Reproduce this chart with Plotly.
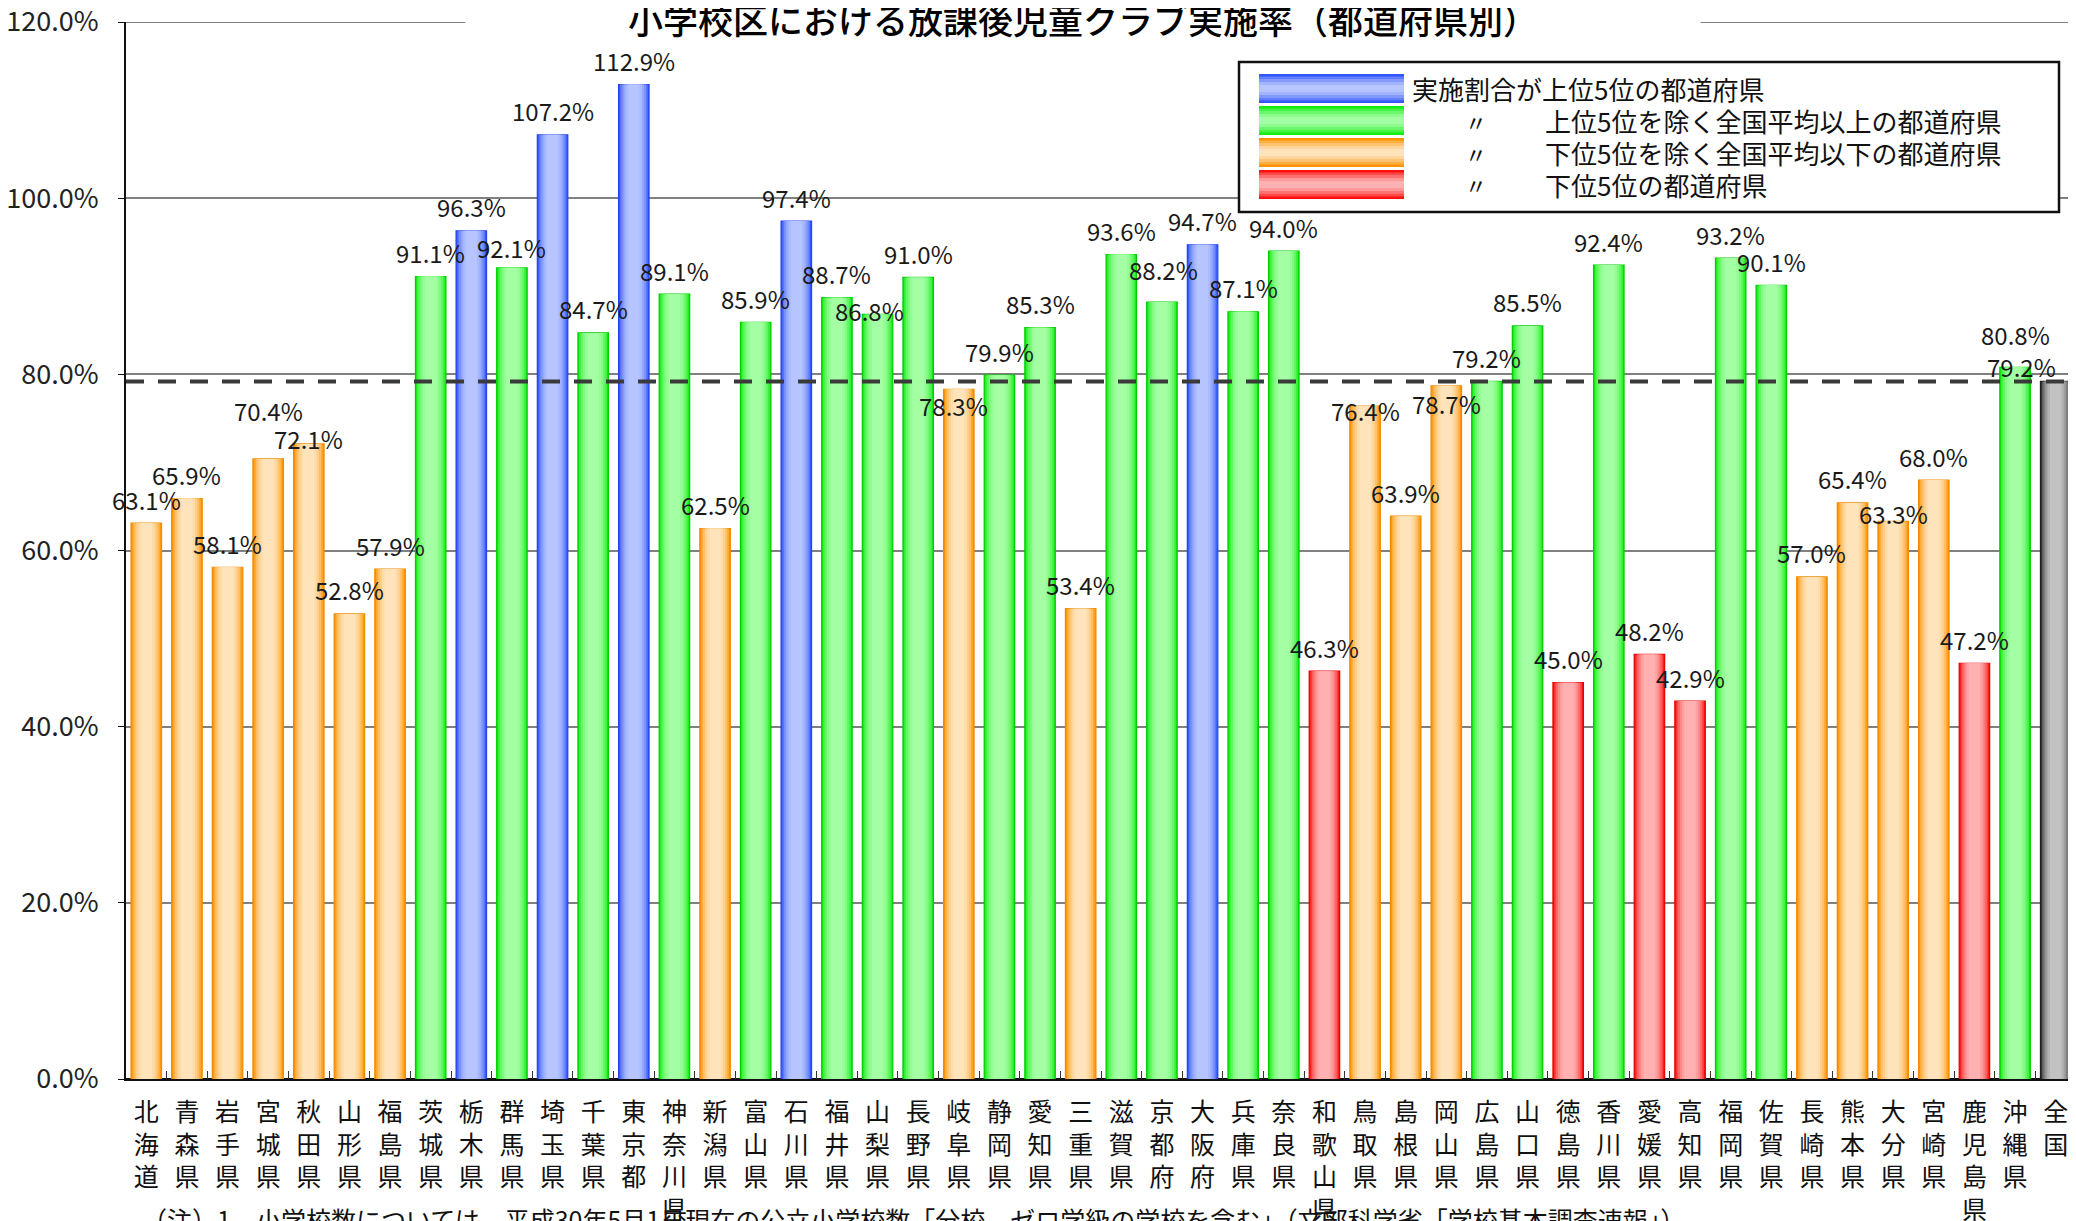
import plotly.graph_objects as go

# 都道府県別の放課後児童クラブ実施率（%）
prefs = ["北海道", "青森県", "岩手県", "宮城県", "秋田県", "山形県", "福島県",
         "茨城県", "栃木県", "群馬県", "埼玉県", "千葉県", "東京都", "神奈川県",
         "新潟県", "富山県", "石川県", "福井県", "山梨県", "長野県", "岐阜県",
         "静岡県", "愛知県", "三重県", "滋賀県", "京都府", "大阪府", "兵庫県",
         "奈良県", "和歌山県", "鳥取県", "島根県", "岡山県", "広島県", "山口県",
         "徳島県", "香川県", "愛媛県", "高知県", "福岡県", "佐賀県", "長崎県",
         "熊本県", "大分県", "宮崎県", "鹿児島県", "沖縄県", "全国"]
rates = [63.1, 65.9, 58.1, 70.4, 72.1, 52.8, 57.9,
         91.1, 96.3, 92.1, 107.2, 84.7, 112.9, 89.1,
         62.5, 85.9, 97.4, 88.7, 86.8, 91.0, 78.3,
         79.9, 85.3, 53.4, 93.6, 88.2, 94.7, 87.1,
         94.0, 46.3, 76.4, 63.9, 78.7, 79.2, 85.5,
         45.0, 92.4, 48.2, 42.9, 93.2, 90.1, 57.0,
         65.4, 63.3, 68.0, 47.2, 80.8, 79.2]
groups = ["below"] * 7 + ["above", "top", "above", "top", "above", "top", "above",
          "below", "above", "top", "above", "above", "above", "below",
          "above", "above", "below", "above", "above", "top", "above",
          "above", "bottom", "below", "below", "below", "above", "above",
          "bottom", "above", "bottom", "bottom", "above", "above", "below",
          "below", "below", "below", "bottom", "above", "national"]
national_avg = 79.2
y_max = 120
ytick_vals = [0, 20, 40, 60, 80, 100, 120]
ytick_text = ["0.0%", "20.0%", "40.0%", "60.0%", "80.0%", "100.0%", "120.0%"]

legend_items = [("top", "実施割合が上位5位の都道府県"),
                ("above", "上位5位を除く全国平均以上の都道府県"),
                ("below", "下位5位を除く全国平均以下の都道府県"),
                ("bottom", "下位5位の都道府県")]

title = "小学校区における放課後児童クラブ実施率（都道府県別）"
note = ("（注）1　小学校数については、平成30年5月1日現在の公立小学校数"
        "「分校、ゼロ学級の学校を含む」（文部科学省「学校基本調査速報」）")

# 色（縁の濃い色, 中央の明るい色, 枠線）
palette = {
    "top": ("#3356ff", "#b6c5ff", "#2244ee"),
    "above": ("#12ee12", "#a4ffa4", "#00cc00"),
    "below": ("#ff9300", "#ffe3ba", "#f08a00"),
    "bottom": ("#ff1010", "#ffb0b0", "#e80000"),
    "national": ("#303030", "#c2c2c2", "#202020"),
}

# 数値ラベルの位置調整（元の図で重なりを避けて動かしてあるもの）
label_nudge = {"宮城県": (0, 24), "秋田県": (0, -19), "群馬県": (0, -4),
               "山梨県": (-8, -20), "岐阜県": (-5, -40), "京都府": (2, 9),
               "鳥取県": (0, -28), "岡山県": (0, -42), "大分県": (0, -16),
               "沖縄県": (0, 9), "全国": (-34, -9)}

FONT = "Noto Sans CJK JP"
OFF = 8  # ページの余白ぶん
W, H = 2076 - OFF, 1221 - OFF
# プロット領域（画面上の座標）
PL, PR, PT, PB = 126, 2076, 22, 1079


def mix(c1, c2, t):
    a = [int(c1[i:i + 2], 16) for i in (1, 3, 5)]
    b = [int(c2[i:i + 2], 16) for i in (1, 3, 5)]
    return "rgb(%d,%d,%d)" % tuple(round(a[k] + (b[k] - a[k]) * t) for k in range(3))


def px(x):
    return (x - PL) / (PR - PL)


def py(y):
    return (PB - y) / (PB - PT)


labels = ["<br>".join(list(p)) for p in prefs]

fig = go.Figure()

# 横方向のグラデーションを、幅の違う棒を重ねて表現
layers = [(0.75, 0.0), (0.68, 0.3), (0.6, 0.55), (0.5, 0.75), (0.4, 0.9), (0.28, 1.0)]
for i, (w, t) in enumerate(layers):
    cols = [mix(palette[g][0], palette[g][1], t) for g in groups]
    fig.add_trace(go.Bar(
        x=labels, y=rates, width=w,
        marker=dict(color=cols,
                    line=dict(color=[palette[g][2] for g in groups] if i == 0 else cols,
                              width=1.2 if i == 0 else 0)),
        showlegend=False,
        hovertemplate="%{y:.1f}%<extra></extra>" if i == 0 else None,
        hoverinfo=None if i == 0 else "skip",
    ))

annotations = []
for lab, p, v in zip(labels, prefs, rates):
    dx, dy = label_nudge.get(p, (0, 0))
    annotations.append(dict(
        x=lab, y=v, xref="x", yref="y", text=f"{v:.1f}%", showarrow=False,
        yanchor="middle", xanchor="center", xshift=dx, yshift=24 + dy,
        font=dict(family=FONT, size=24, color="#1a1a1a")))

# タイトル（120%の線を白地で切る）
annotations.append(dict(
    x=px(1083), y=py(18), xref="paper", yref="paper", text=title,
    showarrow=False, xanchor="center", yanchor="middle",
    width=1232, height=40, bgcolor="white",
    font=dict(family=FONT, size=35, color="#000", weight=500)))

# 注記
annotations.append(dict(
    x=px(140), y=py(1199), xref="paper", yref="paper", text=note,
    showarrow=False, xanchor="left", yanchor="top",
    font=dict(family=FONT, size=25, color="#111")))

shapes = []
# 120%の目盛線（端の線は自動では引かれないため）
shapes.append(dict(type="line", xref="paper", yref="y", x0=0, x1=1,
                   y0=y_max, y1=y_max, layer="below",
                   line=dict(color="#808080", width=2)))
# 全国平均の破線
shapes.append(dict(type="line", xref="paper", yref="y", x0=0, x1=1,
                   y0=national_avg, y1=national_avg, layer="above",
                   line=dict(color="#3a3a3a", width=4, dash="18px,14px")))

# 凡例の枠
shapes.append(dict(type="rect", xref="paper", yref="paper",
                   x0=px(1239), x1=px(2059), y0=py(62), y1=py(212),
                   fillcolor="white", line=dict(color="#111", width=2.5),
                   layer="above"))
row_y = [88.5, 120.5, 152.5, 184.5]
swatch = [(29, 0.0), (24, 0.35), (19, 0.6), (13, 0.85), (7, 1.0)]
for (g, txt), cy in zip(legend_items, row_y):
    for h, t in swatch:
        c = mix(palette[g][0], palette[g][1], t)
        shapes.append(dict(type="rect", xref="paper", yref="paper",
                           x0=px(1259), x1=px(1404), y0=py(cy - h / 2), y1=py(cy + h / 2),
                           fillcolor=c, line=dict(width=0), layer="above"))
    if g == "top":
        annotations.append(dict(x=px(1410), y=py(cy), xref="paper", yref="paper",
                                text=txt, showarrow=False, xanchor="left",
                                yanchor="middle",
                                font=dict(family=FONT, size=26, color="#111")))
    else:
        annotations.append(dict(x=px(1476), y=py(cy), xref="paper", yref="paper",
                                text="〃", showarrow=False, xanchor="center",
                                yanchor="middle",
                                font=dict(family=FONT, size=22, color="#111")))
        annotations.append(dict(x=px(1543), y=py(cy), xref="paper", yref="paper",
                                text=txt, showarrow=False, xanchor="left",
                                yanchor="middle",
                                font=dict(family=FONT, size=26, color="#111")))

fig.update_layout(
    width=W, height=H,
    margin=dict(l=PL - OFF, r=W - (PR - OFF), t=PT - OFF, b=H - (PB - OFF), pad=0),
    barmode="overlay",
    plot_bgcolor="white", paper_bgcolor="white",
    font=dict(family=FONT, color="#111"),
    showlegend=False,
    xaxis=dict(showline=True, linecolor="#111", linewidth=2,
               ticks="inside", ticklen=8, tickcolor="#333", tickwidth=1,
               tickson="boundaries", tickangle=0, showgrid=False,
               tickfont=dict(family=FONT, size=25, color="#111"),
               ticklabelstandoff=10, range=[-0.5, len(prefs) - 0.5],
               automargin=False),
    yaxis=dict(range=[0, y_max], tickvals=ytick_vals, ticktext=ytick_text,
               showline=True, linecolor="#111", linewidth=2,
               ticks="outside", ticklen=6, tickcolor="#111",
               showgrid=True, gridcolor="#808080", gridwidth=1.5,
               zeroline=True, zerolinecolor="#111", zerolinewidth=2,
               tickfont=dict(family=FONT, size=27, color="#222"),
               ticklabelstandoff=14, ticklabeloverflow="allow",
               automargin=False),
    annotations=annotations,
    shapes=shapes,
)

fig.write_html("out.html")
